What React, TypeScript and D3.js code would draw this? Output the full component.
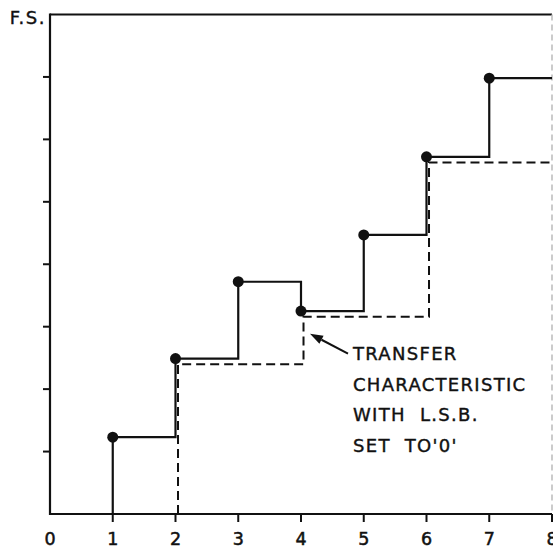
import React from "react";
import * as d3 from "d3";

const xTicks = [0, 1, 2, 3, 4, 5, 6, 7, 8];
const xTickLabels = ["0", "1", "2", "3", "4", "5", "6", "7", "8"];
const yTicks = [1, 2, 3, 4, 5, 6, 7];
const yTopLabel = "F.S.";

// solid transfer characteristic: code positions and output levels (in units of full scale/8)
const solidCodes = [1, 2, 3, 4, 5, 6, 7];
const solidLevels = [1.23, 2.49, 3.72, 3.25, 4.47, 5.72, 6.98];

// dashed characteristic with LSB set to '0'
const dashedCodes = [2.04, 4.04, 6.04];
const dashedLevels = [2.4, 3.16, 5.63];

const annotationLines = ["TRANSFER", "CHARACTERISTIC", "WITH  L.S.B.", "SET  TO'0'"];

const W = 553;
const H = 547;

export default function App() {
  const x = d3.scaleLinear().domain([0, 8]).range([50, 552]);
  const y = d3.scaleLinear().domain([0, 8]).range([514, 14.5]);

  const solidPts: [number, number][] = [[solidCodes[0], 0]];
  solidCodes.forEach((c, i) => {
    const next = i + 1 < solidCodes.length ? solidCodes[i + 1] : 8;
    solidPts.push([c, solidLevels[i]]);
    solidPts.push([next, solidLevels[i]]);
  });

  const dashedPts: [number, number][] = [[dashedCodes[0], 0]];
  dashedCodes.forEach((c, i) => {
    const next = i + 1 < dashedCodes.length ? dashedCodes[i + 1] : 8;
    dashedPts.push([c, dashedLevels[i]]);
    dashedPts.push([next, dashedLevels[i]]);
  });

  const line = d3
    .line<[number, number]>()
    .x((d) => x(d[0]))
    .y((d) => y(d[1]));

  const font = "'DejaVu Sans', 'Liberation Sans', sans-serif";

  // annotation arrow: from text to the dashed step near code 4
  const tipX = x(4) + 9;
  const tipY = y(3.16) + 17;
  const tailX = tipX + 38;
  const tailY = tipY + 20;
  const ang = Math.atan2(tailY - tipY, tailX - tipX);
  const ah = 13;
  const aw = 4.5;
  const bx = tipX + ah * Math.cos(ang);
  const by = tipY + ah * Math.sin(ang);
  const arrowHead = `M${tipX},${tipY} L${bx - aw * Math.sin(ang)},${by + aw * Math.cos(ang)} L${bx + aw * Math.sin(ang)},${by - aw * Math.cos(ang)} Z`;

  const textStyle = { whiteSpace: "pre" as const };

  return (
    <svg
      width={W}
      height={H}
      style={{ position: "absolute", left: 0, top: 0, background: "#fff" }}
    >
      {/* frame */}
      <line x1={x(0)} x2={x(8)} y1={y(8)} y2={y(8)} stroke="#111" strokeWidth={2.2} />
      <line x1={x(0)} x2={x(0)} y1={y(8) - 1} y2={y(0) + 1} stroke="#111" strokeWidth={2.2} />
      <line x1={x(0) - 1} x2={x(8)} y1={y(0)} y2={y(0)} stroke="#111" strokeWidth={2.2} />
      <line x1={x(8)} x2={x(8)} y1={y(8)} y2={y(0)} stroke="#bbb" strokeWidth={1.5} strokeDasharray="6 4" />

      {/* y ticks */}
      {yTicks.map((t) => (
        <line key={"yt" + t} x1={x(0) - 7} x2={x(0)} y1={y(t)} y2={y(t)} stroke="#111" strokeWidth={2} />
      ))}
      <text
        x={x(0) - 4}
        y={y(8) + 9}
        textAnchor="end"
        fontFamily={font}
        fontSize={18}
        fill="#111"
        stroke="#111"
        strokeWidth={0.4}
        letterSpacing={1.5}
      >
        {yTopLabel}
      </text>

      {/* x ticks */}
      {xTicks.map((t, i) => (
        <g key={"xt" + t}>
          {t > 0 && <line x1={x(t)} x2={x(t)} y1={y(0)} y2={y(0) + 8} stroke="#111" strokeWidth={2} />}
          <text
            x={x(t)}
            y={544.5}
            textAnchor="middle"
            fontFamily={font}
            fontSize={17.5}
            fill="#111"
            stroke="#111"
            strokeWidth={0.5}
          >
            {xTickLabels[i]}
          </text>
        </g>
      ))}

      {/* dashed characteristic */}
      <path d={line(dashedPts) || ""} fill="none" stroke="#111" strokeWidth={2} strokeDasharray="9 5" />

      {/* solid characteristic */}
      <path d={line(solidPts) || ""} fill="none" stroke="#111" strokeWidth={2.2} />
      {solidCodes.map((c, i) => (
        <circle key={"pt" + c} cx={x(c)} cy={y(solidLevels[i])} r={5.5} fill="#111" />
      ))}

      {/* annotation */}
      <line x1={bx} y1={by} x2={tailX} y2={tailY} stroke="#111" strokeWidth={2} />
      <path d={arrowHead} fill="#111" />
      {annotationLines.map((s, i) => (
        <text
          key={"ann" + i}
          x={353}
          y={360 + i * 30.5}
          fontFamily={font}
          fontSize={18}
          fill="#111"
          stroke="#111"
          strokeWidth={0.4}
          letterSpacing={1.3}
          style={textStyle}
        >
          {s}
        </text>
      ))}
    </svg>
  );
}
